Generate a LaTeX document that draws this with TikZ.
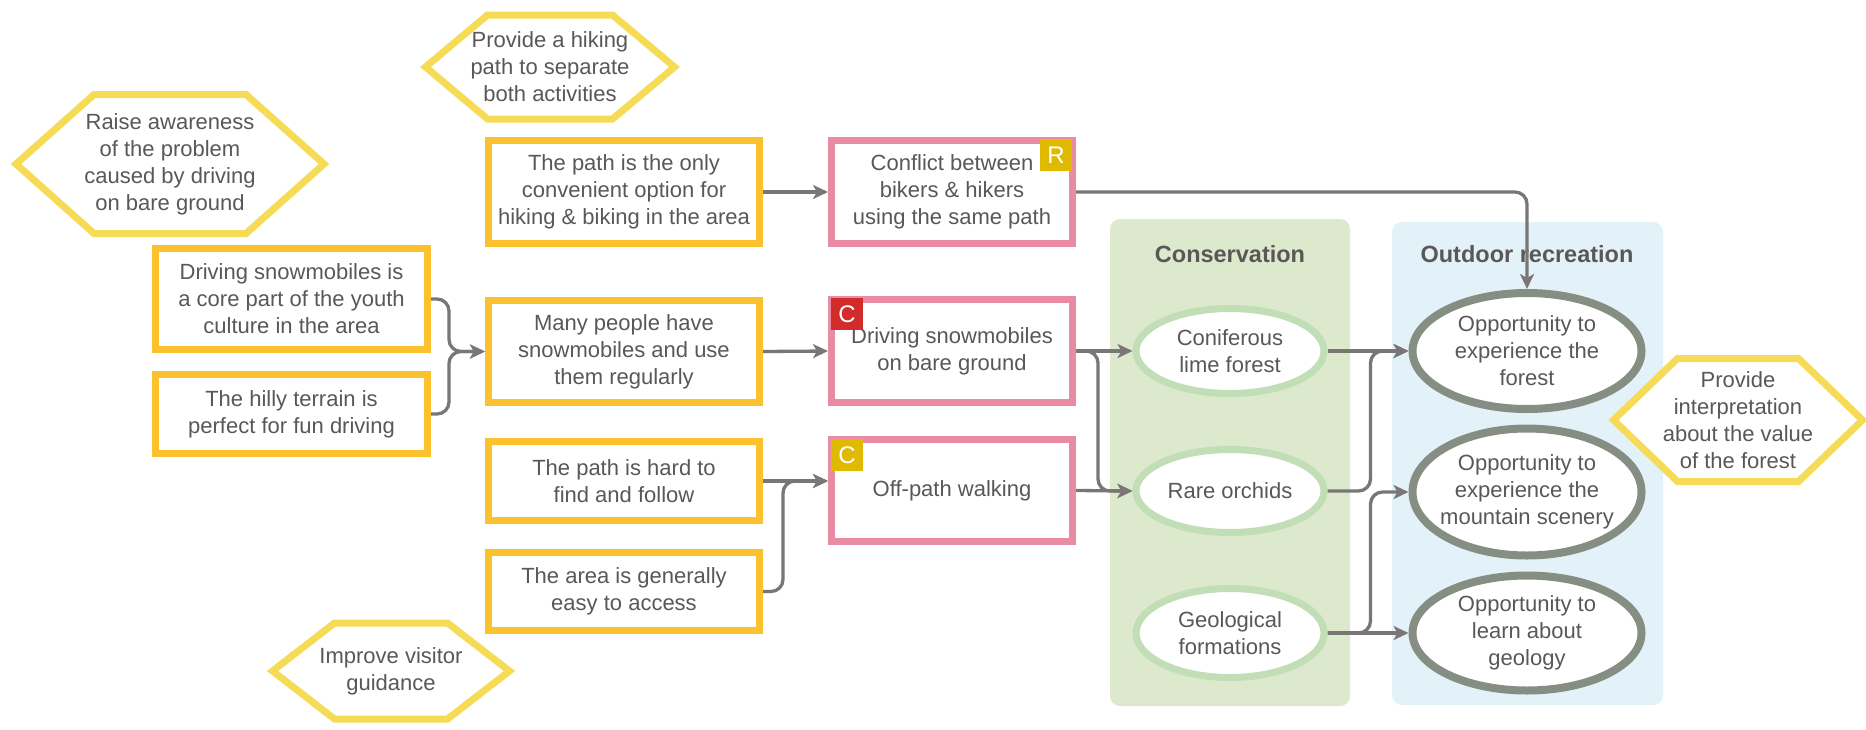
\documentclass[tikz,border=0pt]{standalone}
\usepackage{fontspec}
\setmainfont{Liberation Sans}
\usetikzlibrary{calc,shapes.geometric,arrows.meta}

\definecolor{txtgray}{HTML}{5B5757}
\definecolor{causeyel}{HTML}{FBC12F}
\definecolor{issuepink}{HTML}{E98BA3}
\definecolor{hexyel}{HTML}{F6DC56}
\definecolor{badgered}{HTML}{D12B2B}
\definecolor{badgeyel}{HTML}{DFBA00}
\definecolor{conspanel}{HTML}{DCE9CD}
\definecolor{consline}{HTML}{C1DEB6}
\definecolor{recpanel}{HTML}{E3F2F8}
\definecolor{recline}{HTML}{868E83}
\definecolor{linkgray}{HTML}{7A7676}

% hexagonal frame around a centre: name, width, height, corner offset
\newcommand\hexframe[4]{%
  \draw[hexline] ($(#1)+(-#2/2,0)$) -- ($(#1)+(-#2/2+#4,-#3/2)$)
    -- ($(#1)+(#2/2-#4,-#3/2)$) -- ($(#1)+(#2/2,0)$)
    -- ($(#1)+(#2/2-#4,#3/2)$) -- ($(#1)+(-#2/2+#4,#3/2)$) -- cycle;}

\begin{document}
\begin{tikzpicture}[x=1pt,y=-1pt,
  font=\fontsize{22}{27}\selectfont, text=txtgray,
  every node/.style={inner sep=0pt, align=center},
  cause/.style={draw=causeyel, line width=7pt, fill=white, rectangle},
  issue/.style={draw=issuepink, line width=7pt, fill=white, rectangle},
  badge/.style={minimum width=32pt, minimum height=32pt, text=white,
    font=\fontsize{24}{24}\selectfont},
  hexline/.style={draw=hexyel, line width=7pt, fill=white},
  consell/.style={ellipse, draw=consline, line width=7pt, fill=white},
  recell/.style={ellipse, draw=recline, line width=8pt, fill=white},
  paneltitle/.style={font=\fontsize{23.5}{28}\selectfont\bfseries},
  link/.style={draw=linkgray, line width=3.3pt, rounded corners=12pt,
    -{Stealth[length=15pt,width=14pt,inset=4pt]}}]

\fill[white] (0,0) rectangle (1866,729);
\useasboundingbox (0,0) rectangle (1866,729);

% value panels
\fill[conspanel, rounded corners=10pt] (1110,219) rectangle (1350,706);
\fill[recpanel, rounded corners=10pt] (1392,222) rectangle (1663,705);
\node[paneltitle] (constitle) at (1230,254) {Conservation};
\node[paneltitle] (rectitle) at (1527,254) {Outdoor recreation};

% underlying causes
\node[cause, minimum width=271pt, minimum height=103pt] (only) at (624,192)
  {The path is the only\\convenient option for\\hiking \& biking in the area};
\node[cause, minimum width=272pt, minimum height=101pt] (core) at (291.5,299)
  {Driving snowmobiles is\\a core part of the youth\\culture in the area};
\node[cause, minimum width=272pt, minimum height=79pt] (hilly) at (291.5,414)
  {The hilly terrain is\\perfect for fun driving};
\node[cause, minimum width=271pt, minimum height=102pt] (many) at (624,351.5)
  {Many people have\\snowmobiles and use\\them regularly};
\node[cause, minimum width=271pt, minimum height=79pt] (hard) at (624,481)
  {The path is hard to\\find and follow};
\node[cause, minimum width=271pt, minimum height=78pt] (area) at (624,591.5)
  {The area is generally\\easy to access};

% issues
\node[issue, minimum width=241pt, minimum height=103pt] (conflict) at (952,192)
  {Conflict between\\bikers \& hikers\\using the same path};
\node[issue, minimum width=241pt, minimum height=103pt] (driving) at (952,351)
  {Driving snowmobiles\\on bare ground};
\node[issue, minimum width=241pt, minimum height=102pt] (offpath) at (952,490.5)
  {Off-path walking};
\node[badge, fill=badgeyel] (rbadge) at (1056,155) {R};
\node[badge, fill=badgered] (cbadgeA) at (847,314) {C};
\node[badge, fill=badgeyel] (cbadgeB) at (847,455) {C};

% conservation values
\node[consell, minimum width=188pt, minimum height=85pt] (conif) at (1230,351) {};
\node (coniftext) at (conif) {Coniferous\\lime forest};
\node[consell, minimum width=188pt, minimum height=83pt] (rare) at (1230,491) {};
\node (raretext) at (rare) {Rare orchids};
\node[consell, minimum width=188pt, minimum height=89pt] (geo) at (1230,633) {};
\node (geotext) at (geo) {Geological\\formations};

% recreation values
\node[recell, minimum width=229pt, minimum height=116pt] (forest) at (1527,351) {};
\node (foresttext) at (forest) {Opportunity to\\experience the\\forest};
\node[recell, minimum width=229pt, minimum height=127pt] (mountain) at (1527,492) {};
\node (mountaintext) at (mountain) {Opportunity to\\experience the\\mountain scenery};
\node[recell, minimum width=229pt, minimum height=115pt] (geology) at (1527,633) {};
\node (geologytext) at (geology) {Opportunity to\\learn about\\geology};

% strategies
\coordinate (hikec) at (550,67);
\hexframe{hikec}{249}{104}{62}
\node (hike) at (hikec) {Provide a hiking\\path to separate\\both activities};
\coordinate (raisec) at (170,164);
\hexframe{raisec}{308}{139}{78}
\node (raise) at (raisec) {Raise awareness\\of the problem\\caused by driving\\on bare ground};
\coordinate (improvec) at (391,671);
\hexframe{improvec}{237}{96}{62}
\node (improve) at (improvec) {Improve visitor\\guidance};
\coordinate (interpc) at (1738,420);
\hexframe{interpc}{249}{123}{64}
\node (interp) at (interpc) {Provide\\interpretation\\about the value\\of the forest};

% links
\draw[link] (only.east) -- (conflict.west);
\draw[link] (conflict.east) -| (forest.north);
\draw[link] (core.east) -- ++(18,0) |- (many.west);
\draw[link] (hilly.east) -- ++(18,0) |- (many.west);
\draw[link] (many.east) -- (driving.west);
\draw[link] (driving.east) -- (conif.west);
\draw[link] (driving.east) -- ++(22,0) |- (rare.west);
\draw[link] (offpath.east) -- (rare.west);
\draw[link] (hard.east) -- (hard.east -| offpath.west);
\draw[link] (area.east) -- ++(20,0) |- (hard.east -| offpath.west);
\draw[link] (conif.east) -- (forest.west);
\draw[link] (rare.east) -- ++(43,0) |- (forest.west);
\draw[link] (geo.east) -- (geology.west);
\draw[link] (geo.east) -- ++(43,0) |- (mountain.west);
\end{tikzpicture}
\end{document}
